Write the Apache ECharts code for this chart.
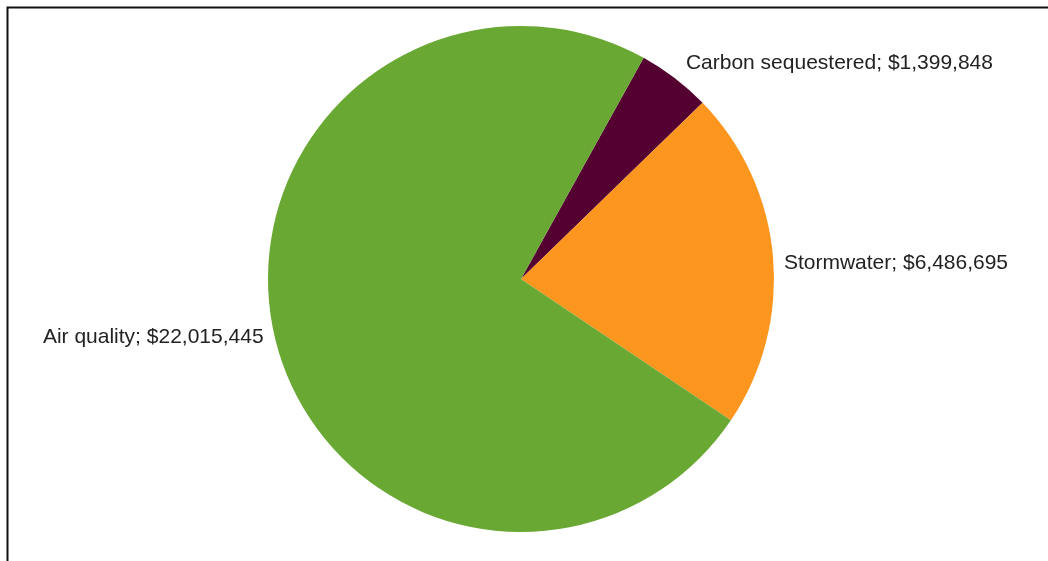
<!DOCTYPE html>
<html>
<head>
<meta charset="utf-8">
<script src="https://cdn.jsdelivr.net/npm/echarts@6/dist/echarts.min.js"></script>
<style>
  html, body { margin: 0; padding: 0; background: #ffffff; }
  #chart { width: 1048px; height: 561px; }
</style>
</head>
<body>
<div id="chart"></div>
<script>
// Annual benefit value by category (USD)
const categories = ['Carbon sequestered', 'Stormwater', 'Air quality'];
const values = [1399848, 6486695, 22015445];
const colors = ['#540030', '#fd961e', '#6aa834'];

// small per-label nudges away from the default outside position
const labelNudge = [[-1, 1], [-9, 8], [8, -6]];

const fmt = v => '$' + v.toLocaleString('en-US');

const chart = echarts.init(document.getElementById('chart'), null, { renderer: 'canvas' });

chart.setOption({
  backgroundColor: '#ffffff',
  animation: false,
  graphic: [
    {
      type: 'polyline',
      shape: { points: [[7.5, 561], [7.5, 7.5], [1048, 7.5]] },
      style: { stroke: '#111111', lineWidth: 2, fill: null }
    }
  ],
  series: [{
    type: 'pie',
    center: [521, 279],
    radius: 253,
    startAngle: 61,
    clockwise: true,
    avoidLabelOverlap: false,
    label: {
      show: true,
      position: 'outside',
      distanceToLabelLine: 0,
      fontFamily: 'Liberation Sans, Arial, sans-serif',
      fontSize: 21,
      color: '#222222',
      formatter: p => p.name + '; ' + fmt(p.value)
    },
    labelLine: { show: false, length: 20, length2: 0 },
    labelLayout: p => ({ dx: labelNudge[p.dataIndex][0], dy: labelNudge[p.dataIndex][1] }),
    emphasis: { disabled: true },
    data: categories.map((name, i) => ({
      name: name,
      value: values[i],
      itemStyle: { color: colors[i] }
    }))
  }]
});
</script>
</body>
</html>
